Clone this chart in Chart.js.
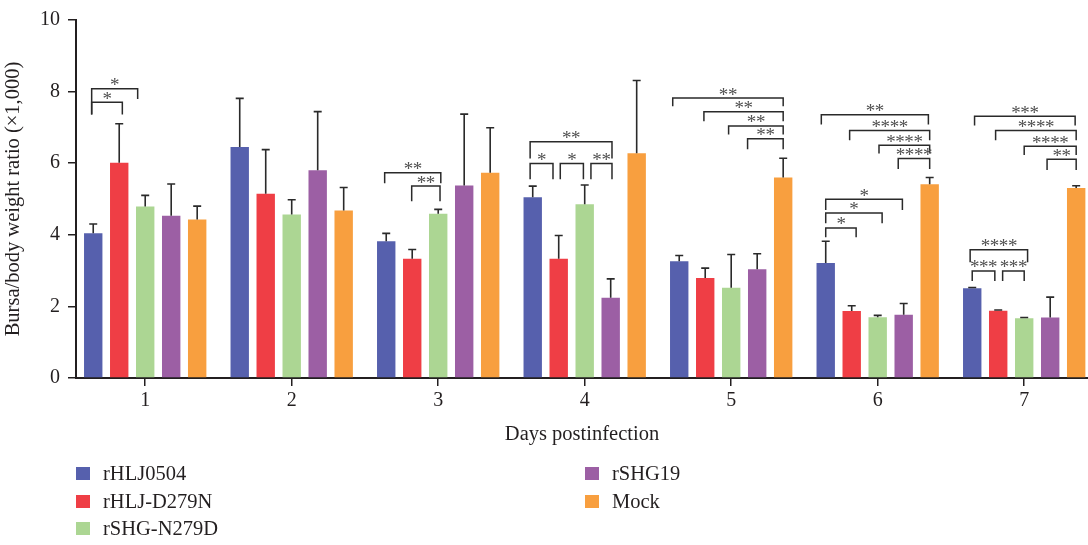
<!DOCTYPE html>
<html><head><meta charset="utf-8">
<script src="https://cdn.jsdelivr.net/npm/chart.js@4.4.1/dist/chart.umd.min.js"></script>
<style>html,body{margin:0;padding:0;background:#fff;overflow:hidden}</style>
</head><body>
<canvas id="c" width="1088" height="545"></canvas>
<script>
// ---- data ----
const days = [1, 2, 3, 4, 5, 6, 7];
const seriesNames = ['rHLJ0504', 'rHLJ-D279N', 'rSHG-N279D', 'rSHG19', 'Mock'];
const rHLJ0504   = [4.04, 6.45, 3.82, 5.05, 3.26, 3.21, 2.51];
const rHLJ_D279N = [6.01, 5.15, 3.33, 3.33, 2.79, 1.87, 1.88];
const rSHG_N279D = [4.79, 4.57, 4.59, 4.85, 2.52, 1.70, 1.67];
const rSHG19     = [4.53, 5.80, 5.38, 2.24, 3.04, 1.77, 1.69];
const mock       = [4.43, 4.68, 5.73, 6.28, 5.60, 5.41, 5.31];
// upper error bars (SD)
const sd_rHLJ0504   = [0.26, 1.36, 0.22, 0.31, 0.16, 0.61, 0.02];
const sd_rHLJ_D279N = [1.09, 1.23, 0.26, 0.65, 0.28, 0.15, 0.02];
const sd_rSHG_N279D = [0.31, 0.41, 0.12, 0.54, 0.93, 0.05, 0.02];
const sd_rSHG19     = [0.89, 1.64, 1.99, 0.53, 0.43, 0.31, 0.57];
const sd_mock       = [0.37, 0.64, 1.26, 2.03, 0.54, 0.19, 0.06];
const yTicks = [0, 2, 4, 6, 8, 10];
// significance brackets: [day, fromSeries, toSeries, yLine, yLowLeft, yLowRight, label]
const brackets = [
  [1, -0.06, 1.12, 7.70, 7.36, 7.36, '*'],
  [1, -0.06, 1.71, 8.08, 7.36, 7.79, '*'],
  [3, -0.06, 2.10, 5.73, 5.44, 5.44, '**'],
  [3, 0.98, 2.07, 5.36, 4.94, 4.94, '**'],
  [4, -0.10, 3.05, 6.60, 6.13, 6.13, '**'],
  [4, -0.10, 0.78, 5.99, 5.55, 5.55, '*'],
  [4, 1.06, 1.95, 5.99, 5.55, 5.55, '*'],
  [4, 2.24, 3.05, 5.99, 5.55, 5.55, '**'],
  [5, -0.25, 4.00, 7.82, 7.59, 7.59, '**'],
  [5, 0.95, 4.00, 7.44, 7.17, 7.17, '**'],
  [5, 1.90, 4.00, 7.04, 6.80, 6.80, '**'],
  [5, 2.63, 4.00, 6.68, 6.39, 6.39, '**'],
  [6, -0.17, 3.95, 7.35, 7.08, 7.08, '**'],
  [6, 0.92, 4.00, 6.91, 6.64, 6.64, '****'],
  [6, 2.05, 4.00, 6.50, 6.27, 6.27, '****'],
  [6, 2.79, 4.00, 6.13, 5.84, 5.84, '****'],
  [6, 0.00, 2.95, 4.99, 4.69, 4.69, '*'],
  [6, 0.00, 2.17, 4.61, 4.32, 4.32, '*'],
  [6, 0.00, 1.17, 4.19, 3.93, 3.93, '*'],
  [7, 0.09, 3.96, 7.31, 7.05, 7.05, '***'],
  [7, 0.90, 4.00, 6.91, 6.64, 6.64, '****'],
  [7, 2.00, 4.00, 6.47, 6.23, 6.23, '****'],
  [7, 2.88, 4.00, 6.11, 5.81, 5.81, '**'],
  [7, -0.08, 2.13, 3.58, 3.23, 3.23, '****'],
  [7, 0.00, 0.87, 2.99, 2.71, 2.71, '***'],
  [7, 1.17, 2.00, 2.99, 2.71, 2.71, '***']
];

// ---- styling ----
const colors = ['#5660ad', '#ef3e45', '#acd693', '#9c5fa4', '#f89f3f'];
const means = [rHLJ0504, rHLJ_D279N, rSHG_N279D, rSHG19, mock];
const sds = [sd_rHLJ0504, sd_rHLJ_D279N, sd_rSHG_N279D, sd_rSHG19, sd_mock];
const FONT = "'Liberation Serif', 'Times New Roman', serif";
const TXT = '#231f20';
const AX = '#231f20';
const CATP = 0.887;

const datasets = seriesNames.map((name, i) => ({
  label: name,
  data: days.map((d, j) => ({x: d, y: means[i][j]})),
  backgroundColor: colors[i],
  borderWidth: 0,
  categoryPercentage: CATP,
  barPercentage: 0.708,
  sd: sds[i]
}));

const errorBars = {
  id: 'errorBars',
  afterDatasetsDraw(chart) {
    const ctx = chart.ctx, ys = chart.scales.y;
    ctx.save();
    ctx.strokeStyle = '#2a2a2a';
    ctx.lineWidth = 1.6;
    chart.data.datasets.forEach((ds, i) => {
      const meta = chart.getDatasetMeta(i);
      meta.data.forEach((bar, j) => {
        const top = ys.getPixelForValue(ds.data[j].y + ds.sd[j]);
        ctx.beginPath();
        ctx.moveTo(bar.x, bar.y);
        ctx.lineTo(bar.x, top);
        ctx.moveTo(bar.x - 4, top);
        ctx.lineTo(bar.x + 4, top);
        ctx.stroke();
      });
    });
    ctx.restore();
  }
};

const sigBrackets = {
  id: 'sigBrackets',
  afterDatasetsDraw(chart) {
    const ctx = chart.ctx, ys = chart.scales.y;
    const m0 = chart.getDatasetMeta(0), m1 = chart.getDatasetMeta(1);
    ctx.save();
    ctx.strokeStyle = '#2a2a2a';
    ctx.lineWidth = 1.5;
    ctx.fillStyle = '#505050';
    ctx.font = "19px " + FONT;
    ctx.textAlign = 'center';
    ctx.textBaseline = 'alphabetic';
    try { ctx.letterSpacing = '-0.4px'; } catch (e) {}
    brackets.forEach(([day, a, b, yl, lowL, lowR, lab]) => {
      const j = days.indexOf(day);
      const x0 = m0.data[j].x, pitch = m1.data[j].x - m0.data[j].x;
      const xa = x0 + a * pitch, xb = x0 + b * pitch;
      const py = ys.getPixelForValue(yl);
      ctx.beginPath();
      ctx.moveTo(xa, ys.getPixelForValue(lowL));
      ctx.lineTo(xa, py);
      ctx.lineTo(xb, py);
      ctx.lineTo(xb, ys.getPixelForValue(lowR));
      ctx.stroke();
      ctx.fillText(lab, (xa + xb) / 2, py + 2.5);
    });
    ctx.restore();
  }
};

const customLegend = {
  id: 'customLegend',
  afterDraw(chart) {
    const ctx = chart.ctx;
    const cols = [76, 585], rows = [473.5, 501.5, 528.5];
    ctx.save();
    ctx.font = "20.5px " + FONT;
    ctx.textBaseline = 'middle';
    ctx.textAlign = 'left';
    chart.data.datasets.forEach((ds, i) => {
      const c = i < 3 ? 0 : 1, r = i < 3 ? i : i - 3;
      const x = cols[c], y = rows[r];
      ctx.fillStyle = ds.backgroundColor;
      ctx.fillRect(x, y - 6.5, 14, 13);
      ctx.fillStyle = TXT;
      ctx.fillText(ds.label, x + 27, y + 1);
    });
    ctx.restore();
  }
};

new Chart(document.getElementById('c'), {
  type: 'bar',
  data: {datasets},
  options: {
    responsive: false,
    animation: false,
    devicePixelRatio: 1,
    layout: {padding: {top: 15, right: 0, left: 0, bottom: 97}},
    plugins: {legend: {display: false}, tooltip: {enabled: false}},
    scales: {
      x: {
        type: 'linear',
        offset: false,
        min: 0.5276,
        max: 7.4355,
        afterBuildTicks: s => { s.ticks = days.map(v => ({value: v})); },
        afterFit: s => { s.height = 70; },
        grid: {display: true, offset: false, drawOnChartArea: false, drawTicks: true, tickLength: 8, color: AX, lineWidth: 1.5},
        border: {display: true, color: AX, width: 2},
        ticks: {font: {family: FONT, size: 20}, color: TXT, padding: 3, maxRotation: 0},
        title: {display: true, text: 'Days postinfection', font: {family: FONT, size: 20.5}, color: TXT, padding: {top: 0, bottom: 1}}
      },
      y: {
        min: 0,
        max: 10,
        afterBuildTicks: s => { s.ticks = yTicks.map(v => ({value: v})); },
        afterFit: s => { s.width = 76; },
        grid: {display: true, drawOnChartArea: false, drawTicks: true, tickLength: 8, color: AX, lineWidth: 1.5},
        border: {display: true, color: AX, width: 2},
        ticks: {font: {family: FONT, size: 20}, color: TXT, padding: 8},
        title: {display: true, text: 'Bursa/body weight ratio (×1,000)', font: {family: FONT, size: 20.5}, color: TXT, padding: {top: 1, bottom: 0}}
      }
    }
  },
  plugins: [errorBars, sigBrackets, customLegend]
});
</script>
</body></html>
